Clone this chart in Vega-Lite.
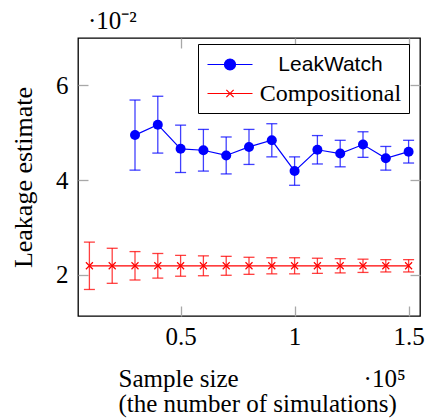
{
  "$schema": "https://vega.github.io/schema/vega-lite/v6.json",
  "width": 342,
  "height": 278,
  "autosize": "none",
  "padding": {"left": 78, "top": 38, "right": 7, "bottom": 102},
  "background": "white",
  "title": {"text": "·10⁻²", "anchor": "start", "frame": "group", "dx": 10, "dy": 27, "offset": 10, "baseline": "alphabetic", "font": "Liberation Serif", "fontSize": 25, "fontWeight": "normal", "color": "black"},
  "config": {
    "view": {"stroke": "black", "strokeWidth": 1.3},
    "axis": {"domain": false, "grid": false, "tickColor": "#a8a8a8", "tickSize": -10, "tickWidth": 1.3, "labelFont": "Liberation Serif", "labelFontSize": 25, "labelColor": "black", "titleFont": "Liberation Serif", "titleFontSize": 25, "titleFontWeight": "normal", "titleColor": "black"}
  },
  "data": {"values": [
    {"series": "LeakWatch", "samples": 30000, "estimate": 0.0495, "err": 0.0074},
    {"series": "LeakWatch", "samples": 40000, "estimate": 0.0517, "err": 0.0060},
    {"series": "LeakWatch", "samples": 50000, "estimate": 0.0466, "err": 0.0050},
    {"series": "LeakWatch", "samples": 60000, "estimate": 0.0463, "err": 0.0044},
    {"series": "LeakWatch", "samples": 70000, "estimate": 0.0452, "err": 0.0039},
    {"series": "LeakWatch", "samples": 80000, "estimate": 0.0470, "err": 0.0037},
    {"series": "LeakWatch", "samples": 90000, "estimate": 0.0484, "err": 0.0035},
    {"series": "LeakWatch", "samples": 100000, "estimate": 0.0419, "err": 0.0030},
    {"series": "LeakWatch", "samples": 110000, "estimate": 0.0464, "err": 0.0030},
    {"series": "LeakWatch", "samples": 120000, "estimate": 0.0456, "err": 0.0028},
    {"series": "LeakWatch", "samples": 130000, "estimate": 0.0475, "err": 0.0027},
    {"series": "LeakWatch", "samples": 140000, "estimate": 0.0446, "err": 0.0025},
    {"series": "LeakWatch", "samples": 150000, "estimate": 0.0460, "err": 0.0024},
    {"series": "Compositional", "samples": 10000, "estimate": 0.0219, "err": 0.0050},
    {"series": "Compositional", "samples": 20000, "estimate": 0.0219, "err": 0.0037},
    {"series": "Compositional", "samples": 30000, "estimate": 0.0219, "err": 0.0030},
    {"series": "Compositional", "samples": 40000, "estimate": 0.0219, "err": 0.0026},
    {"series": "Compositional", "samples": 50000, "estimate": 0.0219, "err": 0.0022},
    {"series": "Compositional", "samples": 60000, "estimate": 0.0219, "err": 0.0021},
    {"series": "Compositional", "samples": 70000, "estimate": 0.0219, "err": 0.0020},
    {"series": "Compositional", "samples": 80000, "estimate": 0.0219, "err": 0.0018},
    {"series": "Compositional", "samples": 90000, "estimate": 0.0219, "err": 0.0017},
    {"series": "Compositional", "samples": 100000, "estimate": 0.0219, "err": 0.0017},
    {"series": "Compositional", "samples": 110000, "estimate": 0.0219, "err": 0.0016},
    {"series": "Compositional", "samples": 120000, "estimate": 0.0219, "err": 0.0015},
    {"series": "Compositional", "samples": 130000, "estimate": 0.0219, "err": 0.0014},
    {"series": "Compositional", "samples": 140000, "estimate": 0.0219, "err": 0.0013},
    {"series": "Compositional", "samples": 150000, "estimate": 0.0219, "err": 0.0013}
  ]},
  "resolve": {"axis": {"x": "independent", "y": "independent"}},
  "layer": [
    {
      "transform": [{"filter": "datum.series == 'LeakWatch'"}],
      "mark": {"type": "line", "color": "#0000ff", "strokeWidth": 1.2},
      "encoding": {
        "x": {"field": "samples", "type": "quantitative", "scale": {"domain": [5000, 155000], "nice": false, "zero": false},
              "axis": {"values": [50000, 100000, 150000], "labelExpr": "datum.value / 100000", "labelPadding": 18,
                       "title": ["Sample size\u2003\u2003\u2003\u2003\u2003·10⁵", "(the number of simulations)"],
                       "titleAlign": "left", "titleAnchor": "start", "titleX": 40, "titleY": 70, "titleBaseline": "alphabetic", "titleLineHeight": 25}},
        "y": {"field": "estimate", "type": "quantitative", "scale": {"domain": [0.0113, 0.07], "nice": false, "zero": false},
              "axis": {"values": [0.02, 0.04, 0.06], "labelExpr": "round(datum.value * 100)", "labelPadding": 20,
                       "title": "Leakage estimate", "titleFontSize": 26, "titleX": -55, "titleY": 139, "titleAlign": "center", "titleBaseline": "middle", "titleAngle": -90}}
      }
    },
    {
      "transform": [{"filter": "datum.series == 'LeakWatch'"}],
      "mark": {"type": "errorbar", "ticks": true, "color": "#0000ff", "opacity": 0.75, "size": 11, "thickness": 1.3},
      "encoding": {
        "x": {"field": "samples", "type": "quantitative", "axis": null},
        "y": {"field": "estimate", "type": "quantitative", "axis": null},
        "yError": {"field": "err"}
      }
    },
    {
      "transform": [{"filter": "datum.series == 'LeakWatch'"}],
      "mark": {"type": "point", "shape": "circle", "filled": true, "color": "#0000ff", "opacity": 1, "size": 100},
      "encoding": {
        "x": {"field": "samples", "type": "quantitative", "axis": null},
        "y": {"field": "estimate", "type": "quantitative", "axis": null}
      }
    },
    {
      "transform": [{"filter": "datum.series == 'Compositional'"}],
      "mark": {"type": "line", "color": "#ff0000", "strokeWidth": 1.2},
      "encoding": {
        "x": {"field": "samples", "type": "quantitative", "axis": null},
        "y": {"field": "estimate", "type": "quantitative", "axis": null}
      }
    },
    {
      "transform": [{"filter": "datum.series == 'Compositional'"}],
      "mark": {"type": "errorbar", "ticks": true, "color": "#ff0000", "opacity": 0.75, "size": 11, "thickness": 1.3},
      "encoding": {
        "x": {"field": "samples", "type": "quantitative", "axis": null},
        "y": {"field": "estimate", "type": "quantitative", "axis": null},
        "yError": {"field": "err"}
      }
    },
    {
      "transform": [{"filter": "datum.series == 'Compositional'"}],
      "mark": {"type": "point", "shape": "M-1,-1L1,1M-1,1L1,-1", "filled": false, "color": "#ff0000", "opacity": 1, "strokeWidth": 1.2, "size": 49},
      "encoding": {
        "x": {"field": "samples", "type": "quantitative", "axis": null},
        "y": {"field": "estimate", "type": "quantitative", "axis": null}
      }
    },
    {
      "transform": [{"filter": "false"}],
      "mark": {"type": "point", "filled": true, "opacity": 1, "strokeWidth": 1.2},
      "encoding": {
        "x": {"field": "samples", "type": "quantitative", "axis": {"orient": "top", "labels": false, "title": null, "values": [50000, 100000, 150000]}},
        "y": {"field": "estimate", "type": "quantitative", "axis": {"orient": "right", "labels": false, "title": null, "values": [0.02, 0.04, 0.06]}},
        "fill": {"field": "series", "type": "nominal", "scale": {"domain": ["LeakWatch", "Compositional"], "range": ["#0000ff", "#ff0000"]},
                 "legend": {"orient": "none", "legendX": 120, "legendY": 6, "title": null, "fillColor": "white", "strokeColor": "black", "padding": 7, "rowPadding": 5, "symbolSize": 625, "symbolOffset": 11.5, "symbolStrokeWidth": 1.2, "labelAlign": "center", "labelOffset": 87, "labelColor": "black", "labelFontSize": {"expr": "datum.label == 'Compositional' ? 24 : 21"}, "labelFont": {"expr": "datum.label == 'Compositional' ? 'Liberation Serif' : 'Liberation Sans'"}}},
        "stroke": {"field": "series", "type": "nominal", "scale": {"domain": ["LeakWatch", "Compositional"], "range": ["#0000ff", "#ff0000"]},
                 "legend": {"orient": "none", "legendX": 120, "legendY": 6, "title": null, "fillColor": "white", "strokeColor": "black", "padding": 7, "rowPadding": 5, "symbolSize": 625, "symbolOffset": 11.5, "symbolStrokeWidth": 1.2, "labelAlign": "center", "labelOffset": 87, "labelColor": "black", "labelFontSize": {"expr": "datum.label == 'Compositional' ? 24 : 21"}, "labelFont": {"expr": "datum.label == 'Compositional' ? 'Liberation Serif' : 'Liberation Sans'"}}},
        "shape": {"field": "series", "type": "nominal", "scale": {"domain": ["LeakWatch", "Compositional"], "range": ["M-1.8,0L1.8,0M-0.44,0A0.44,0.44,0,1,1,0.44,0A0.44,0.44,0,1,1,-0.44,0Z", "M-1.8,0L1.8,0M-0.29,-0.29L0.29,0.29M-0.29,0.29L0.29,-0.29"]},
                 "legend": {"orient": "none", "legendX": 120, "legendY": 6, "title": null, "fillColor": "white", "strokeColor": "black", "padding": 7, "rowPadding": 5, "symbolSize": 625, "symbolOffset": 11.5, "symbolStrokeWidth": 1.2, "labelAlign": "center", "labelOffset": 87, "labelColor": "black", "labelFontSize": {"expr": "datum.label == 'Compositional' ? 24 : 21"}, "labelFont": {"expr": "datum.label == 'Compositional' ? 'Liberation Serif' : 'Liberation Sans'"}}}
      }
    }
  ]
}
